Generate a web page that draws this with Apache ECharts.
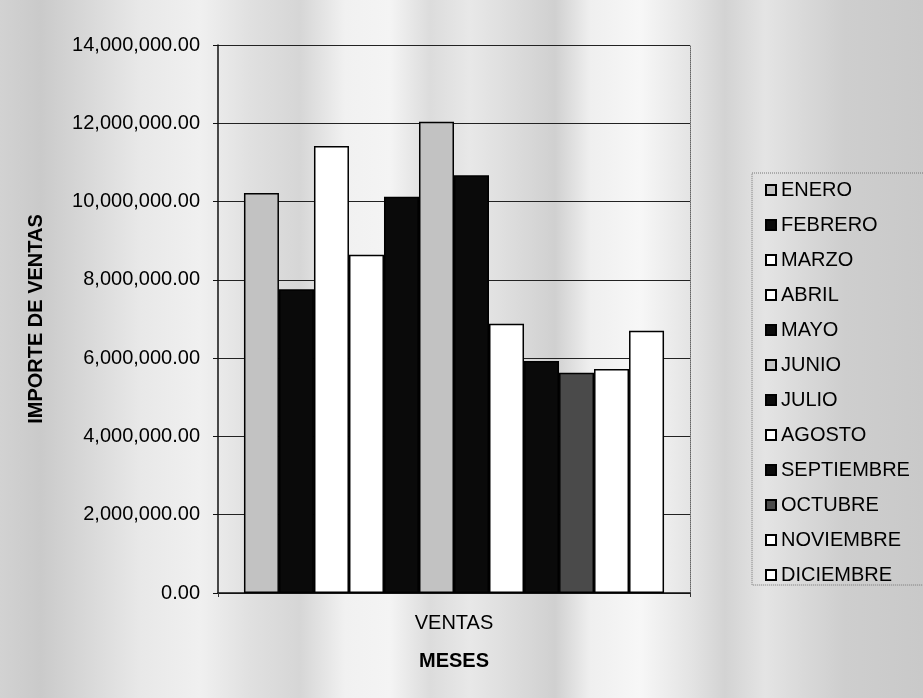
<!DOCTYPE html>
<html>
<head>
<meta charset="utf-8">
<title>Importe de ventas por mes</title>
<script src="https://cdn.jsdelivr.net/npm/echarts@6/dist/echarts.min.js"></script>
<style>
  html, body { margin: 0; padding: 0; }
  body {
    width: 923px; height: 698px; overflow: hidden;
    background: linear-gradient(to right,
      #d2d2d2 0px, #cacaca 40px, #d6d6d6 80px, #e8e8e8 140px, #f0f0f0 200px,
      #e0e0e0 250px, #d6d6d6 300px, #f1f1f1 345px, #f4f4f4 390px, #dcdcdc 430px,
      #e8e8e8 470px, #dadada 520px, #d0d0d0 555px, #efefef 590px, #f7f7f7 640px,
      #e4e4e4 690px, #d3d3d3 725px, #e4e4e4 765px, #dadada 800px, #cecece 845px,
      #c9c9c9 923px);
  }
  #chart { width: 923px; height: 698px; }
</style>
</head>
<body>
<div id="chart"></div>
<script>
// Monthly sales (one bar per month, single category)
const categorias = ['VENTAS'];
const meses = ['ENERO', 'FEBRERO', 'MARZO', 'ABRIL', 'MAYO', 'JUNIO',
               'JULIO', 'AGOSTO', 'SEPTIEMBRE', 'OCTUBRE', 'NOVIEMBRE', 'DICIEMBRE'];
const ventas = [10220000, 7760000, 11420000, 8640000, 10120000, 12040000,
                10670000, 6880000, 5930000, 5630000, 5720000, 6700000];
const rellenos = ['#c2c2c2', '#0a0a0a', '#ffffff', '#ffffff', '#0a0a0a', '#c2c2c2',
                  '#0a0a0a', '#ffffff', '#0a0a0a', '#4a4a4a', '#ffffff', '#ffffff'];
const ejeY = { min: 0, max: 14000000, interval: 2000000 };

const FONT = '"Liberation Sans", Arial, sans-serif';

function formatoImporte(v) {
  const fixed = Number(v).toFixed(2);
  const [ent, dec] = fixed.split('.');
  return ent.replace(/\B(?=(\d{3})+(?!\d))/g, ',') + '.' + dec;
}

const chart = echarts.init(document.getElementById('chart'), null, { renderer: 'canvas' });

const series = meses.map((mes, i) => ({
  name: mes,
  type: 'bar',
  barGap: '0%',
  barCategoryGap: '11%',
  data: [ventas[i]],
  itemStyle: { color: rellenos[i], borderColor: '#000', borderWidth: 1.5 },
  emphasis: { disabled: true }
}));

chart.setOption({
  backgroundColor: 'transparent',
  animation: false,
  textStyle: { fontFamily: FONT },
  grid: { left: 218, right: 233, top: 45, bottom: 105, containLabel: false },
  legend: {
    orient: 'vertical',
    left: 752,
    top: 173,
    padding: [7, 60, 0, 13],
    itemWidth: 10,
    itemHeight: 10,
    itemGap: 15,
    borderColor: '#777',
    borderWidth: 1,
    borderType: 'dotted',
    icon: 'rect',
    selectedMode: false,
    textStyle: { fontFamily: FONT, fontSize: 20, color: '#000' },
    data: meses
  },
  xAxis: {
    type: 'category',
    data: categorias,
    name: 'MESES',
    nameLocation: 'middle',
    nameGap: 58,
    nameTextStyle: { fontFamily: FONT, fontSize: 20, fontWeight: 'bold', color: '#000' },
    axisLine: { lineStyle: { color: '#111', width: 1.5 } },
    axisTick: { show: true, length: 4, lineStyle: { color: '#333' } },
    axisLabel: { margin: 20, fontFamily: FONT, fontSize: 20, color: '#000' }
  },
  yAxis: [{
    type: 'value',
    min: ejeY.min,
    max: ejeY.max,
    interval: ejeY.interval,
    name: 'IMPORTE DE VENTAS',
    nameLocation: 'middle',
    nameRotate: 90,
    nameGap: 172,
    nameTextStyle: { fontFamily: FONT, fontSize: 20, fontWeight: 'bold', color: '#000' },
    axisLine: { show: true, lineStyle: { color: '#111', width: 1.5 } },
    axisTick: { show: true, length: 5, lineStyle: { color: '#111' } },
    axisLabel: { margin: 18, fontFamily: FONT, fontSize: 20, color: '#000', formatter: formatoImporte },
    splitLine: { show: true, lineStyle: { color: '#222', width: 1 } }
  }, {
    type: 'value',
    position: 'right',
    min: ejeY.min,
    max: ejeY.max,
    interval: ejeY.interval,
    axisLine: { show: true, lineStyle: { color: '#666', width: 1, type: 'dotted' } },
    axisTick: { show: false },
    axisLabel: { show: false },
    splitLine: { show: false }
  }],
  series: series
});
</script>
</body>
</html>
